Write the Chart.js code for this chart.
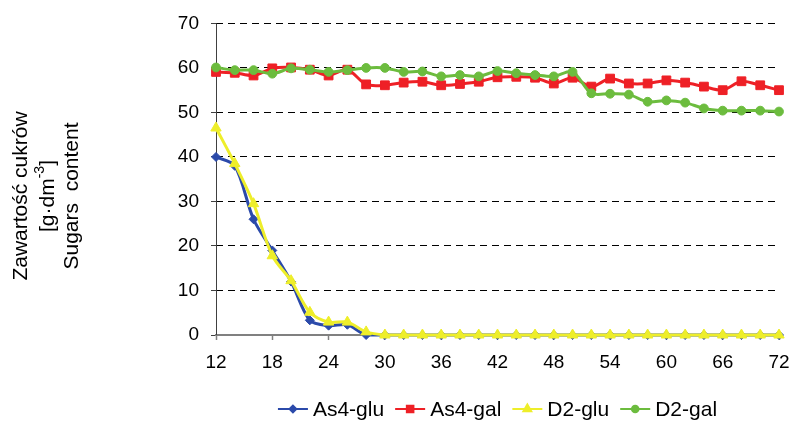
<!DOCTYPE html>
<html>
<head>
<meta charset="utf-8">
<script src="https://cdn.jsdelivr.net/npm/chart.js@4.4.1/dist/chart.umd.min.js"></script>
<style>
  html, body { margin: 0; padding: 0; background: #ffffff; }
  #wrap { width: 790px; height: 421px; position: relative; }
</style>
</head>
<body>
<div id="wrap"><canvas id="c" width="790" height="421"></canvas></div>
<script>
// Sampling times [h]
const hours = [12, 14, 16, 18, 20, 22, 24, 26, 28, 30, 32, 34, 36, 38, 40, 42,
               44, 46, 48, 50, 52, 54, 56, 58, 60, 62, 64, 66, 68, 70, 72];

// Sugar content [g·dm-3]
const as4Glu = [40.0, 38.0, 26.0, 19.0, 12.0, 3.3, 2.1, 2.3, 0.0, 0, 0, 0, 0, 0, 0, 0,
                0, 0, 0, 0, 0, 0, 0, 0, 0, 0, 0, 0, 0, 0, 0];
const as4Gal = [59.1, 58.9, 58.3, 59.9, 60.1, 59.6, 58.3, 59.6, 56.3, 56.1, 56.7, 56.9, 56.1, 56.4, 56.9, 57.9,
                58.0, 57.8, 56.5, 57.8, 55.8, 57.6, 56.5, 56.5, 57.2, 56.7, 55.8, 55.0, 57.0, 56.1, 55.0];
const d2Glu  = [46.5, 38.5, 29.5, 17.8, 12.2, 5.1, 2.9, 2.9, 0.7, 0, 0, 0, 0, 0, 0, 0,
                0, 0, 0, 0, 0, 0, 0, 0, 0, 0, 0, 0, 0, 0, 0];
const d2Gal  = [60.1, 59.5, 59.5, 58.7, 59.9, 59.6, 59.1, 59.5, 60.0, 60.0, 59.1, 59.2, 58.1, 58.4, 58.1, 59.3,
                58.8, 58.4, 58.1, 59.1, 54.3, 54.2, 54.0, 52.4, 52.7, 52.2, 50.9, 50.4, 50.4, 50.4, 50.2];

const seriesNames = ['As4-glu', 'As4-gal', 'D2-glu', 'D2-gal'];
const yTicks = [0, 10, 20, 30, 40, 50, 60, 70];
const xTicks = [12, 18, 24, 30, 36, 42, 48, 54, 60, 66, 72];

const titleLines = ['Zawartość cukrów', '[g·dm', '-3', ']', 'Sugars  content'];

const FONT = 'Arial, "Liberation Sans", sans-serif';

function pts(vals) { return hours.map((h, i) => ({ x: h, y: vals[i] })); }

const styles = [
  { color: '#2B4AAA', shape: 'rectRot',  r: 4.5, order: 4 },
  { color: '#EE2026', shape: 'rect',     r: 6.2, order: 3 },
  { color: '#EEEE2A', shape: 'triangle', r: 6,   order: 2 },
  { color: '#6CBC3E', shape: 'circle',   r: 4.4, order: 1 }
];
const allValues = [as4Glu, as4Gal, d2Glu, d2Gal];

const datasets = allValues.map((vals, i) => ({
  label: seriesNames[i],
  data: pts(vals),
  borderColor: styles[i].color,
  backgroundColor: styles[i].color,
  pointBackgroundColor: styles[i].color,
  pointBorderColor: styles[i].color,
  pointStyle: styles[i].shape,
  pointRadius: styles[i].r,
  pointBorderWidth: 1,
  borderWidth: 3,
  tension: 0.3,
  order: styles[i].order,
  clip: false
}));

// Solid vertical value axis line (grid lines themselves are dashed)
const yAxisLinePlugin = {
  id: 'yAxisLine',
  beforeDatasetsDraw(chart) {
    const ctx = chart.ctx;
    const ca = chart.chartArea;
    const x = Math.round(ca.left) + 0.5;
    ctx.save();
    ctx.strokeStyle = '#404040';
    ctx.lineWidth = 1;
    ctx.setLineDash([]);
    ctx.beginPath();
    ctx.moveTo(x, ca.top);
    ctx.lineTo(x, ca.bottom);
    ctx.stroke();
    ctx.restore();
  }
};

// Rotated three-line y-axis title
const yTitlePlugin = {
  id: 'yTitle',
  afterDraw(chart) {
    const ctx = chart.ctx;
    const cy = 196;
    ctx.save();
    ctx.fillStyle = '#000';
    ctx.textBaseline = 'middle';
    ctx.textAlign = 'center';
    const f = '21px ' + FONT;
    const fs = '14px ' + FONT;

    // line 1
    ctx.save();
    ctx.translate(21, cy);
    ctx.rotate(-Math.PI / 2);
    ctx.font = f;
    ctx.fillText(titleLines[0], 0, 0);
    ctx.restore();

    // line 2 with superscript
    ctx.save();
    ctx.translate(48, cy);
    ctx.rotate(-Math.PI / 2);
    ctx.font = f;
    const w1 = ctx.measureText(titleLines[1]).width;
    const w3 = ctx.measureText(titleLines[3]).width;
    ctx.font = fs;
    const w2 = ctx.measureText(titleLines[2]).width;
    const total = w1 + w2 + w3;
    let x = -total / 2;
    ctx.textAlign = 'left';
    ctx.font = f;
    ctx.fillText(titleLines[1], x, 0); x += w1;
    ctx.font = fs;
    ctx.fillText(titleLines[2], x, -8); x += w2;
    ctx.font = f;
    ctx.fillText(titleLines[3], x, 0);
    ctx.restore();

    // line 3
    ctx.save();
    ctx.translate(72, cy);
    ctx.rotate(-Math.PI / 2);
    ctx.font = f;
    ctx.fillText(titleLines[4], 0, 0);
    ctx.restore();

    ctx.restore();
  }
};

// Legend: line sample with marker, then series name
const legendPlugin = {
  id: 'lineLegend',
  afterDraw(chart) {
    const ctx = chart.ctx;
    ctx.save();
    ctx.font = '21px ' + FONT;
    ctx.textBaseline = 'middle';
    const lineLen = 30, gapText = 5, gapItem = 11;
    const widths = seriesNames.map(n => ctx.measureText(n).width);
    const total = widths.reduce((a, w) => a + lineLen + gapText + w, 0) + gapItem * (seriesNames.length - 1);
    const ca = chart.chartArea;
    let x = (ca.left + ca.right) / 2 - total / 2;
    const y = 409;
    seriesNames.forEach((name, i) => {
      const st = styles[i];
      ctx.strokeStyle = st.color;
      ctx.fillStyle = st.color;
      ctx.lineWidth = 2;
      ctx.beginPath();
      ctx.moveTo(x, y);
      ctx.lineTo(x + lineLen, y);
      ctx.stroke();
      Chart.helpers.drawPoint(ctx, { pointStyle: st.shape, radius: st.r * 0.75, rotation: 0, borderWidth: 1 }, x + lineLen / 2, y);
      ctx.fillStyle = '#000';
      ctx.fillText(name, x + lineLen + gapText, y + 1);
      x += lineLen + gapText + widths[i] + gapItem;
    });
    ctx.restore();
  }
};

new Chart(document.getElementById('c'), {
  type: 'line',
  data: { datasets },
  options: {
    responsive: false,
    animation: false,
    events: [],
    layout: { padding: { left: 0, right: 11, top: 21, bottom: 46 } },
    plugins: {
      legend: { display: false },
      tooltip: { enabled: false }
    },
    scales: {
      x: {
        type: 'linear',
        min: 12,
        max: 72,
        afterBuildTicks(scale) { scale.ticks = xTicks.map(v => ({ value: v })); },
        afterFit(scale) {
          scale.height = 40;
          scale.paddingLeft = 0;
          scale.paddingRight = 0;
        },
        ticks: {
          color: '#000',
          font: { family: FONT, size: 19 },
          padding: 11,
          maxRotation: 0,
          autoSkip: false
        },
        grid: {
          display: true,
          drawOnChartArea: false,
          drawTicks: true,
          tickLength: 5,
          tickColor: '#808080',
          tickWidth: 1.5
        },
        border: { display: true, color: '#808080', width: 2 }
      },
      y: {
        min: 0,
        max: 70,
        afterBuildTicks(scale) { scale.ticks = yTicks.map(v => ({ value: v })); },
        afterFit(scale) { scale.width = 216; },
        ticks: {
          color: '#000',
          font: { family: FONT, size: 19 },
          padding: 12
        },
        grid: {
          color: (c) => c.tick && c.tick.value === 0 ? 'rgba(0,0,0,0)' : '#000',
          lineWidth: 1,
          drawTicks: true,
          tickLength: 5,
          tickColor: '#404040',
          tickBorderDash: [],
          tickWidth: 1
        },
        border: { display: false, dash: [7, 5] }
      }
    }
  },
  plugins: [yAxisLinePlugin, yTitlePlugin, legendPlugin]
});
</script>
</body>
</html>
